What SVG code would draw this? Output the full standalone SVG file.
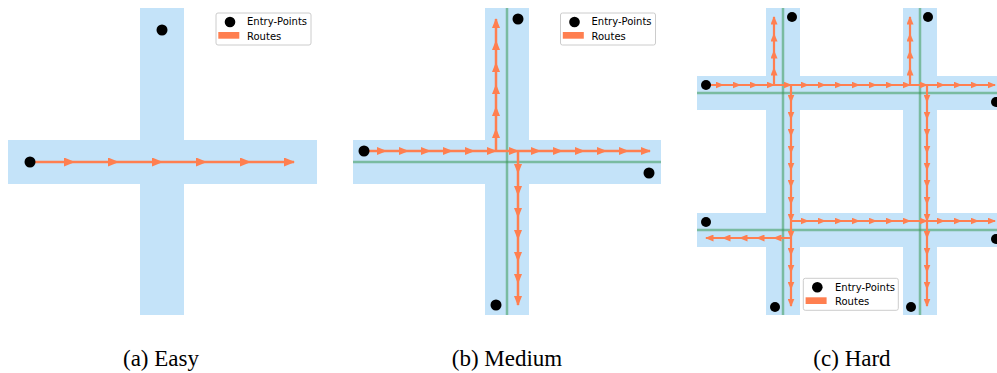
<svg xmlns="http://www.w3.org/2000/svg" width="997" height="373" viewBox="0 0 997 373">
<style>
.road{fill:#c4e3f9}
.lane{stroke:#3c9b5a;stroke-opacity:0.55;stroke-width:2.5;fill:none}
.route{fill:none;stroke:#ff7f50}
.ra{stroke-width:2.6;marker-mid:url(#ma);marker-end:url(#ma)}
.rb{stroke-width:2.5;marker-mid:url(#mb);marker-end:url(#mb)}
.rc{stroke-width:2.2;marker-mid:url(#mc);marker-end:url(#mc)}
.ep{fill:#000}
.legbox{fill:#fff;fill-opacity:0.8;stroke:#cccccc;stroke-width:1}
.legtxt{font-family:"DejaVu Sans",Verdana,sans-serif;font-size:10px;fill:#000}
.cap{font-family:"Liberation Serif","Times New Roman",serif;font-size:23px;fill:#000;text-anchor:middle}
</style>
<defs>
<marker id="ma" markerUnits="userSpaceOnUse" markerWidth="11" markerHeight="9" refX="10" refY="4.5" orient="auto"><path d="M0,0 L11,4.5 L0,9 z" fill="#ff7f50"/></marker>
<marker id="mb" markerUnits="userSpaceOnUse" markerWidth="10" markerHeight="8" refX="9" refY="4" orient="auto"><path d="M0,0 L10,4 L0,8 z" fill="#ff7f50"/></marker>
<marker id="mc" markerUnits="userSpaceOnUse" markerWidth="8.5" markerHeight="7" refX="7.5" refY="3.5" orient="auto"><path d="M0,0 L8.5,3.5 L0,7 z" fill="#ff7f50"/></marker>
</defs>

<!-- Panel (a) Easy -->
<g id="panel-a">
<g id="roads-a">
<rect class="road" x="140" y="8" width="44" height="307"/>
<rect class="road" x="8" y="140" width="309" height="44"/>
</g>
<g id="connectors-a">
<path class="route ra" d="M30,162 L74,162 L118,162 L162,162 L206,162 L250,162 L294,162"/>
</g>
<g id="entry-a">
<circle class="ep" cx="162" cy="30" r="5.5"/>
<circle class="ep" cx="30" cy="162" r="5.5"/>
</g>
<g id="legend-a">
<rect class="legbox" x="216" y="13" width="95" height="32" rx="2"/>
<circle class="ep" cx="230" cy="22" r="5.3"/>
<text class="legtxt" x="247" y="25.3">Entry-Points</text>
<rect x="218.3" y="32" width="21" height="6.7" fill="#ff7f50"/>
<text class="legtxt" x="247" y="39.7">Routes</text>
</g>
<text class="cap" x="161" y="366">(a) Easy</text>
</g>

<!-- Panel (b) Medium -->
<g id="panel-b">
<g id="roads-b">
<rect class="road" x="485" y="8" width="44" height="307"/>
<rect class="road" x="353" y="140" width="308" height="44"/>
<line class="lane" x1="507" y1="8" x2="507" y2="315"/>
<line class="lane" x1="353" y1="162" x2="661" y2="162"/>
</g>
<g id="connectors-b">
<path class="route rb" d="M364,151 L386,151 L408,151 L430,151 L452,151 L474,151 L496,151 L518,151 L540,151 L562,151 L584,151 L606,151 L628,151 L650,151"/>
<path class="route rb" d="M496,151 L496,129 L496,107 L496,85 L496,63 L496,41 L496,19"/>
<path class="route rb" d="M518,151 L518,173 L518,195 L518,217 L518,239 L518,261 L518,283 L518,305"/>
</g>
<g id="entry-b">
<circle class="ep" cx="364" cy="151" r="5.5"/>
<circle class="ep" cx="518" cy="19" r="5.5"/>
<circle class="ep" cx="649" cy="173" r="5.5"/>
<circle class="ep" cx="496" cy="305" r="5.5"/>
</g>
<g id="legend-b">
<rect class="legbox" x="560.5" y="13" width="95" height="32" rx="2"/>
<circle class="ep" cx="574.5" cy="22" r="5.3"/>
<text class="legtxt" x="591.5" y="25.3">Entry-Points</text>
<rect x="562.8" y="32" width="21" height="6.7" fill="#ff7f50"/>
<text class="legtxt" x="591.5" y="39.7">Routes</text>
</g>
<text class="cap" x="507" y="366">(b) Medium</text>
</g>

<!-- Panel (c) Hard -->
<g id="panel-c">
<g id="roads-c">
<rect class="road" x="766" y="8" width="34" height="307"/>
<rect class="road" x="903" y="8" width="34" height="307"/>
<rect class="road" x="697" y="76" width="300" height="34"/>
<rect class="road" x="697" y="213" width="300" height="34"/>
<line class="lane" x1="783" y1="8" x2="783" y2="315"/>
<line class="lane" x1="920" y1="8" x2="920" y2="315"/>
<line class="lane" x1="697" y1="93" x2="997" y2="93"/>
<line class="lane" x1="697" y1="230" x2="997" y2="230"/>
</g>
<g id="connectors-c">
<path class="route rc" d="M706,85 L723,85 L740,85 L757,85 L774,85 L791,85 L808,85 L825,85 L842,85 L859,85 L876,85 L893,85 L910,85 L927,85 L944,85 L961,85 L978,85 L995,85"/>
<path class="route rc" d="M774,85 L774,68 L774,51 L774,34 L774,17"/>
<path class="route rc" d="M910,85 L910,68 L910,51 L910,34 L910,17"/>
<path class="route rc" d="M791,85 L791,102 L791,119 L791,136 L791,153 L791,170 L791,187 L791,204 L791,221 L791,238 L791,255 L791,272 L791,289 L791,306"/>
<path class="route rc" d="M927,85 L927,102 L927,119 L927,136 L927,153 L927,170 L927,187 L927,204 L927,221 L927,238 L927,255 L927,272 L927,289 L927,306"/>
<path class="route rc" d="M791,221 L808,221 L825,221 L842,221 L859,221 L876,221 L893,221 L910,221 L927,221 L944,221 L961,221 L978,221 L995,221"/>
<path class="route rc" d="M791,238 L774,238 L757,238 L740,238 L723,238 L706,238"/>
</g>
<g id="entry-c">
<circle class="ep" cx="706" cy="85" r="5"/>
<circle class="ep" cx="792" cy="17" r="5"/>
<circle class="ep" cx="928" cy="17" r="5"/>
<circle class="ep" cx="996" cy="102" r="5"/>
<circle class="ep" cx="706" cy="222" r="5"/>
<circle class="ep" cx="996" cy="239" r="5"/>
<circle class="ep" cx="775" cy="307" r="5"/>
<circle class="ep" cx="911" cy="307" r="5"/>
</g>
<g id="legend-c">
<rect class="legbox" x="803.3" y="278.3" width="95" height="32" rx="2"/>
<circle class="ep" cx="817.3" cy="287.3" r="5.3"/>
<text class="legtxt" x="835" y="290.6">Entry-Points</text>
<rect x="805.6" y="297.3" width="21" height="6.7" fill="#ff7f50"/>
<text class="legtxt" x="835" y="305">Routes</text>
</g>
<text class="cap" x="852" y="366">(c) Hard</text>
</g>
</svg>
